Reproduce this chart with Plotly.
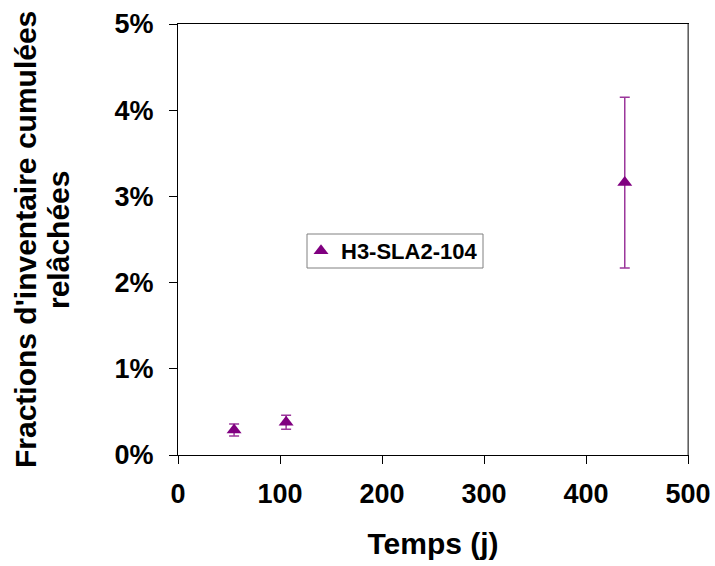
import plotly.graph_objects as go

# Data
temps_j = [55, 106, 438]
fractions_pct = [0.29, 0.38, 3.16]
err_plus_pct = [0.07, 0.08, 0.99]
err_minus_pct = [0.07, 0.08, 0.99]
series_name = "H3-SLA2-104"

x_ticks = [0, 100, 200, 300, 400, 500]
y_ticks = [0, 1, 2, 3, 4, 5]
y_tick_labels = ["0%", "1%", "2%", "3%", "4%", "5%"]

y_title_lines = ["Fractions d'inventaire cumulées", "relâchées"]
x_title = "Temps (j)"

FONT = "Arial, 'Liberation Sans', sans-serif"

W, H = 715, 566
ML, MR, MT, MB = 178, 27, 24, 111
PW = W - ML - MR
PH = H - MT - MB


def px_x(p):
    return (p - ML) / PW


def px_y(p):
    return (H - MB - p) / PH


fig = go.Figure()
fig.add_trace(go.Scatter(
    x=temps_j, y=fractions_pct, mode="markers", name=series_name,
    marker=dict(symbol="triangle-up", size=13, color="#800080"),
    error_y=dict(type="data", symmetric=False, array=err_plus_pct,
                 arrayminus=err_minus_pct, color="#9b379b",
                 thickness=1.5, width=5),
))

# grey right edge of the plot frame
fig.add_shape(type="line", xref="paper", yref="paper",
              x0=1, x1=1, y0=0, y1=1,
              line=dict(color="#7f7f7f", width=1.5), layer="above")

# legend frame
fig.add_shape(type="rect", xref="paper", yref="paper",
              x0=px_x(307), x1=px_x(483), y0=px_y(268), y1=px_y(234),
              line=dict(color="#808080", width=1), fillcolor="rgba(0,0,0,0)",
              layer="above")

# y-axis title (two lines)
fig.add_annotation(text=y_title_lines[0], xref="paper", yref="paper",
                   x=px_x(25), y=px_y(240), xanchor="center", yanchor="middle",
                   textangle=-90, showarrow=False,
                   font=dict(size=30, family=FONT, color="black", weight="bold"))
fig.add_annotation(text=y_title_lines[1], xref="paper", yref="paper",
                   x=px_x(58), y=px_y(240), xanchor="center", yanchor="middle",
                   textangle=-90, showarrow=False,
                   font=dict(size=30, family=FONT, color="black", weight="bold"))

fig.update_layout(
    width=W, height=H,
    margin=dict(l=ML, r=MR, t=MT, b=MB),
    paper_bgcolor="white", plot_bgcolor="white",
    font=dict(family=FONT, color="black"),
    showlegend=True,
    legend=dict(x=px_x(301), y=px_y(251), xanchor="left", yanchor="middle",
                borderwidth=0, bgcolor="rgba(0,0,0,0)",
                font=dict(size=22, family=FONT, color="black", weight="bold"),
                itemwidth=30, tracegroupgap=0),
    xaxis=dict(
        range=[0, 500], tickvals=x_ticks, showgrid=False, zeroline=False,
        showline=True, linecolor="black", linewidth=1, mirror=True,
        ticks="outside", ticklen=8, tickcolor="black",
        ticklabelstandoff=7, automargin=False,
        tickfont=dict(size=27, family=FONT, weight="bold"),
        title=dict(text=x_title, standoff=24,
                   font=dict(size=30, family=FONT, weight="bold")),
    ),
    yaxis=dict(
        range=[0, 5], tickvals=y_ticks, ticktext=y_tick_labels,
        showgrid=False, automargin=False,
        zeroline=False, showline=True, linecolor="black", linewidth=1,
        mirror=True, ticks="outside", ticklen=8, tickcolor="black",
        ticklabelstandoff=10,
        tickfont=dict(size=27, family=FONT, weight="bold"),
    ),
)

fig.write_html("out.html", config={"displayModeBar": False},
               post_script="document.body.style.margin='0';")
